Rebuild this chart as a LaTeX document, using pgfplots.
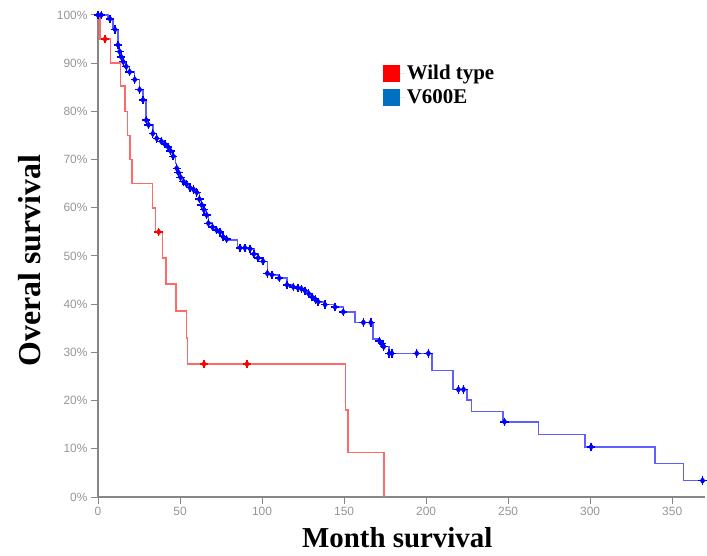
\documentclass[border=0pt]{standalone}
\usepackage{fontspec}
\setmainfont{Liberation Serif}
\newfontfamily\ticksf{Liberation Sans}
\usepackage{pgfplots}
\usepackage{pgfplotstable}
\pgfplotsset{compat=1.18}

\definecolor{wtline}{RGB}{255,105,105}
\definecolor{wtmark}{RGB}{255,0,0}
\definecolor{mutline}{RGB}{95,95,255}
\definecolor{mutmark}{RGB}{0,0,255}
\definecolor{legred}{RGB}{255,0,0}
\definecolor{legblue}{RGB}{0,112,192}
\definecolor{axisgray}{RGB}{135,135,135}
\definecolor{tickgray}{RGB}{150,150,150}

% Kaplan-Meier estimates: t = months, s = survival (%), c = 1 for a censored case
\pgfplotstableread{
t      s     c
0      100   0
1.2    95    0
4.3    95    1
7.5    90    0
13.8   85.3  0
16.5   80    0
18     75    0
19.5   70    0
20.8   65    0
33.3   60    0
35     55    0
37     55    1
39.4   49.6  0
41.5   44.2  0
47.6   38.6  0
54     33    0
54.7   27.6  0
64.6   27.6  1
90.8   27.6  1
151    18    0
152.5  9.2   0
174.4  0     0
}\wildtype

\pgfplotstableread{
t      s     c
0      100   1
2      100   1
6      99.2  0
7.3    99.2  1
9      97    0
10.4   97    1
12.2   93.8  1
13.2   92.4  1
14.2   91.3  1
15.4   90.3  1
17.2   89.3  1
19.3   88.2  1
22.4   86.6  1
25.4   84.5  1
27.4   82.4  1
29.4   78.2  1
30.8   77.2  1
33.4   75.4  1
35.8   74.4  1
38.6   73.8  1
40.8   73.2  1
42.8   72.6  1
44.2   71.8  1
45.8   70.7  1
47.2   69.2  0
48.0   68.2  1
49.0   67.3  1
50.4   66.3  1
52.2   65.4  1
54.0   64.9  1
56.0   64.2  1
58.2   63.8  1
60.2   63.2  1
61.8   61.8  1
63.2   60.6  1
64.6   59.6  1
66.2   58.5  1
67.3   56.8  1
69.8   56.0  1
72.2   55.4  1
74.4   55.0  1
76.2   54.0  1
78.4   53.5  1
80     53.3  0
85     51.9  0
86.6   51.7  1
89.5   51.7  1
92.7   51.5  1
95.0   50.4  1
97.6   49.6  1
100.6  48.9  1
103.2  46.4  1
106    46.1  1
110.5  45.4  1
115.2  44.0  1
119.0  43.6  1
121.8  43.4  1
124.0  43.2  1
126.2  42.8  1
128.4  42.2  1
130.5  41.5  1
132.4  41.0  1
134.2  40.5  1
138.4  39.9  1
144.5  39.4  1
149.5  38.4  1
156.7  36.2  0
161.8  36.2  1
166.3  36.2  1
167.6  32.8  0
171.5  32.4  1
173.0  31.8  1
174.2  31.2  1
177.5  29.8  1
179.2  29.8  1
194.3  29.8  1
201.4  29.8  1
203.5  26.2  0
216.3  22.3  0
219.7  22.3  1
222.8  22.3  1
224.8  20.1  0
227.8  17.7  0
247.0  15.6  0
247.8  15.6  1
268.5  13.0  0
297.0  10.4  0
300.6  10.4  1
339.6  7.0   0
356.9  3.4   0
368.5  3.4   1
}\vsixhundred

\begin{document}
\begin{tikzpicture}
\begin{axis}[
  at={(0,0)}, anchor=south west,
  scale only axis, width=607bp, height=482bp,
  xmin=0, xmax=370, ymin=0, ymax=100,
  clip=false,
  axis lines=left,
  axis line style={axisgray, line width=1.3pt, -},
  xtick={0,50,...,350}, ytick={0,10,...,100},
  tick align=outside, major tick length=7bp,
  tick style={axisgray, line width=1pt},
  /pgf/number format/assume math mode=true,
  ticklabel style={font=\ticksf\fontsize{12}{12}\selectfont, text=tickgray},
  yticklabel={\pgfmathprintnumber{\tick}\%},
  xlabel={Month survival},
  ylabel={Overal survival},
  every axis x label/.style={at={(axis description cs:0.493,0)}, yshift=-41bp,
    anchor=center, inner sep=0pt, font=\bfseries\fontsize{29}{29}\selectfont},
  every axis y label/.style={at={(axis description cs:0,0.49)}, xshift=-68bp,
    rotate=90, anchor=center, inner sep=0pt,
    font=\bfseries\fontsize{32}{32}\selectfont},
  legend style={at={(axis description cs:0.469,0.898)}, anchor=north west,
    draw=none, fill=none, inner sep=0pt, row sep=6bp,
    font=\bfseries\fontsize{21}{21}\selectfont,
    nodes={inner sep=1bp}},
  legend cell align=left,
  legend image code/.code={\fill[#1] (0bp,-8.5bp) rectangle (17bp,8.5bp);
    \path (0bp,0bp) -- (23bp,0bp);},
]
% survival curves
\addplot[const plot, wtline, line width=1.5pt, forget plot]
  table[x=t, y=s] {\wildtype};
\addplot[const plot, mutline, line width=1.5pt, forget plot]
  table[x=t, y=s] {\vsixhundred};
% censored cases
\addplot[only marks, mark=diamond*, mark size=3.2bp, wtmark, forget plot,
  restrict expr to domain={\thisrow{c}}{1:1}]
  table[x=t, y=s] {\wildtype};
\addplot[only marks, mark=+, mark size=4.2bp, wtmark, line width=1.4pt, forget plot,
  restrict expr to domain={\thisrow{c}}{1:1}]
  table[x=t, y=s] {\wildtype};
\addplot[only marks, mark=diamond*, mark size=3.2bp, mutmark, forget plot,
  restrict expr to domain={\thisrow{c}}{1:1}]
  table[x=t, y=s] {\vsixhundred};
\addplot[only marks, mark=+, mark size=4.2bp, mutmark, line width=1.4pt, forget plot,
  restrict expr to domain={\thisrow{c}}{1:1}]
  table[x=t, y=s] {\vsixhundred};
% legend swatches
\addlegendimage{fill=legred, draw=none}
\addlegendentry{Wild type}
\addlegendimage{fill=legblue, draw=none}
\addlegendentry{V600E}
\end{axis}
\pgfresetboundingbox
\path (-98bp,-59bp) rectangle (609bp,497bp);
\end{tikzpicture}
\end{document}
